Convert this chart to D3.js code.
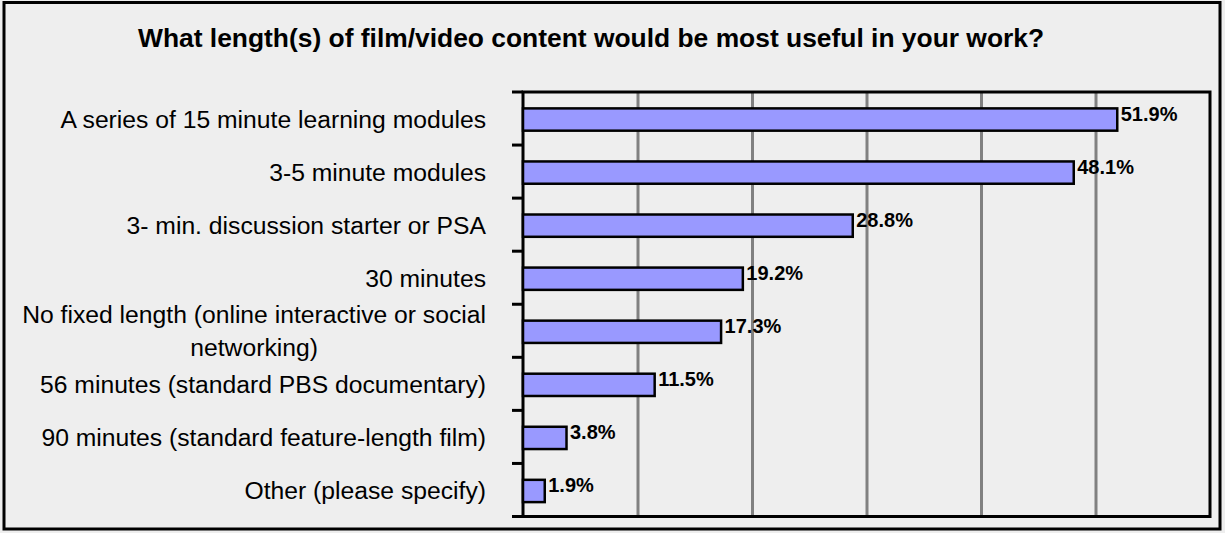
<!DOCTYPE html>
<html><head><meta charset="utf-8">
<script src="https://cdn.jsdelivr.net/npm/d3@7"></script>
<style>html,body{margin:0;padding:0;background:#eeeeee;} svg{display:block;}</style>
</head><body><svg id="c" width="1225" height="533"></svg>
<script>
const title = "What length(s) of film/video content would be most useful in your work?";
const categories = [
  "A series of 15 minute learning modules",
  "3-5 minute modules",
  "3- min. discussion starter or PSA",
  "30 minutes",
  "No fixed length (online interactive or social\nnetworking)",
  "56 minutes (standard PBS documentary)",
  "90 minutes (standard feature-length film)",
  "Other (please specify)"
];
const values = [51.9, 48.1, 28.8, 19.2, 17.3, 11.5, 3.8, 1.9];
const xTicks = [0, 10, 20, 30, 40, 50, 60];
const valueLabels = values.map(v => v.toFixed(1) + "%");

const FONT = "'Liberation Sans', Arial, Helvetica, sans-serif";
const svg = d3.select("#c");
const plot = {l: 523, r: 1210, t: 92, b: 516.5};

// outer border
svg.append("rect").attr("x", 4).attr("y", 2.5).attr("width", 1216).attr("height", 526.5)
  .attr("fill", "#eeeeee").attr("stroke", "#000").attr("stroke-width", 3);

// title
svg.append("text").attr("x", 138).attr("y", 47).attr("text-anchor", "start")
  .attr("font-family", FONT).attr("font-weight", "bold").attr("font-size", 26.4)
  .attr("fill", "#000").text(title);

const x = d3.scaleLinear().domain([0, 60]).range([plot.l, plot.r]);
const y = d3.scaleBand().domain(categories).range([plot.t, plot.b]).padding(0);

// gridlines
const grid = svg.append("g").attr("transform", `translate(0,${plot.b})`)
  .call(d3.axisBottom(x).tickValues(xTicks.slice(1, -1)).tickSize(-(plot.b - plot.t)).tickFormat(""));
grid.select(".domain").remove();
grid.selectAll(".tick line").attr("stroke", "#808080").attr("stroke-width", 3);

// plot border
svg.append("rect").attr("x", plot.l).attr("y", plot.t).attr("width", plot.r - plot.l).attr("height", plot.b - plot.t)
  .attr("fill", "none").attr("stroke", "#000").attr("stroke-width", 3);

// category ticks at band boundaries
const bounds = categories.map(c => y(c)).concat([plot.b]);
svg.append("g").selectAll("line").data(bounds).join("line")
  .attr("x1", plot.l - 11).attr("x2", plot.l).attr("y1", d => d).attr("y2", d => d)
  .attr("stroke", "#000").attr("stroke-width", 3);

// bars
const barH = y.bandwidth() * 0.42;
svg.append("g").selectAll("rect").data(values).join("rect")
  .attr("x", x(0)).attr("y", (d, i) => y(categories[i]) + y.bandwidth() / 2 - barH / 2 + 1)
  .attr("width", d => x(d) - x(0)).attr("height", barH)
  .attr("fill", "#9999ff").attr("stroke", "#000").attr("stroke-width", 2.5);

// value labels
svg.append("g").selectAll("text").data(values).join("text")
  .attr("x", d => x(d) + 3.5).attr("y", (d, i) => y(categories[i]) + y.bandwidth() / 2 + 2)
  .attr("font-family", FONT).attr("font-weight", "bold").attr("font-size", 20).attr("fill", "#000")
  .text((d, i) => valueLabels[i]);

// category labels
const labelRight = 486;
const lineGap = 33;
categories.forEach((c, i) => {
  const lines = c.split("\n");
  const cy = y(c) + y.bandwidth() / 2;
  const t = svg.append("text").attr("font-family", FONT).attr("font-size", 24.7).attr("fill", "#000");
  const spans = lines.map((ln, k) => t.append("tspan").attr("y", cy + 9 + (k - (lines.length - 1) / 2) * lineGap).text(ln));
  if (lines.length === 1) {
    t.attr("text-anchor", "end"); spans[0].attr("x", labelRight);
  } else {
    const maxW = d3.max(spans, s => s.node().getComputedTextLength());
    t.attr("text-anchor", "middle");
    spans.forEach(s => s.attr("x", labelRight - maxW / 2));
  }
});
</script></body></html>
